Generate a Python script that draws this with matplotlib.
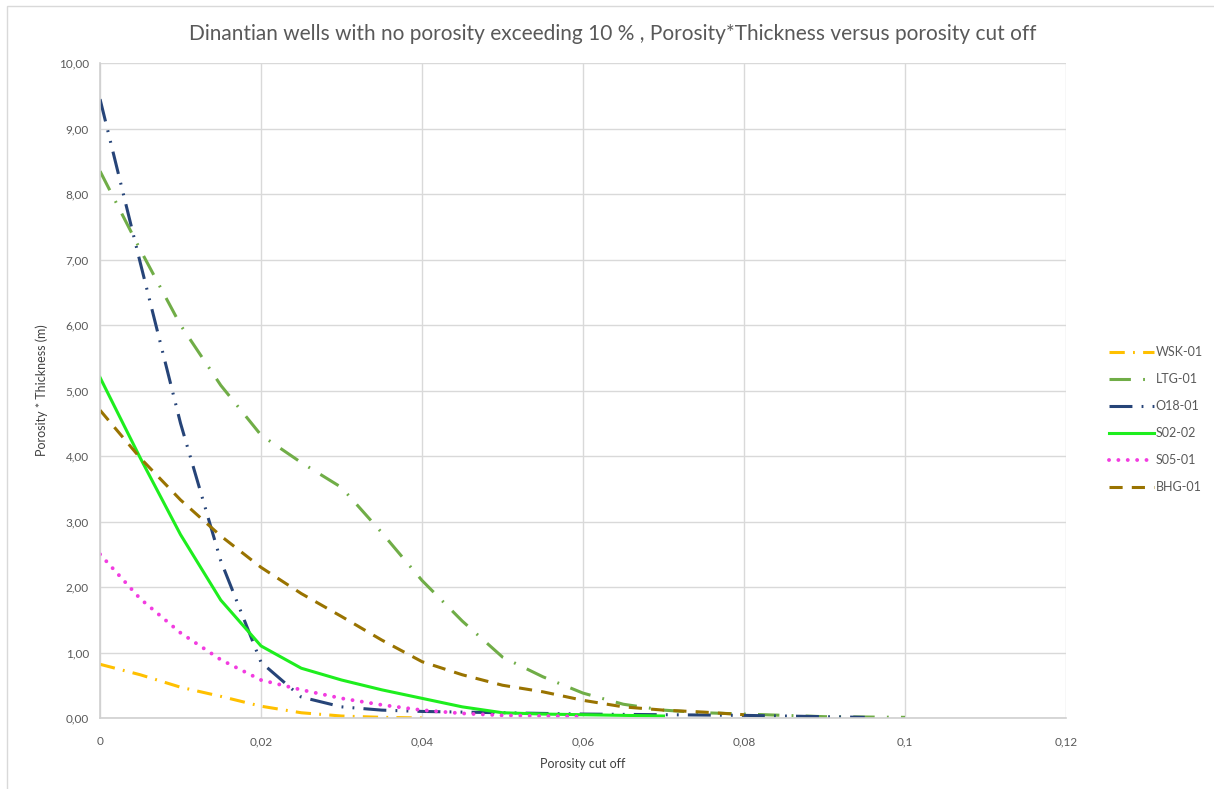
import numpy as np
import matplotlib
matplotlib.use("Agg")
import matplotlib.pyplot as plt
from matplotlib.patches import Rectangle

plt.rcParams['font.family'] = ['Lato', 'DejaVu Sans']

# porosity cut off values
cutoff = [0, 0.005, 0.01, 0.015, 0.02, 0.025, 0.03, 0.035, 0.04, 0.045, 0.05,
          0.055, 0.06, 0.065, 0.07, 0.075, 0.08, 0.085, 0.09, 0.095, 0.1]

wsk_01 = [0.82, 0.66, 0.47, 0.33, 0.18, 0.08, 0.03, 0.01, 0.0]
ltg_01 = [8.35, 7.15, 6.0, 5.08, 4.32, 3.9, 3.52, 2.83, 2.1, 1.48, 0.93,
          0.63, 0.38, 0.21, 0.12, 0.08, 0.06, 0.04, 0.02, 0.015, 0.01]
o18_01 = [9.45, 6.95, 4.5, 2.4, 0.85, 0.32, 0.17, 0.12, 0.1, 0.09, 0.08,
          0.07, 0.06, 0.055, 0.05, 0.045, 0.04, 0.03, 0.02, 0.01]
s02_02 = [5.2, 3.97, 2.8, 1.8, 1.1, 0.76, 0.58, 0.43, 0.3, 0.17, 0.08,
          0.06, 0.05, 0.04, 0.03]
s05_01 = [2.5, 1.82, 1.3, 0.89, 0.58, 0.43, 0.3, 0.2, 0.12, 0.07, 0.04,
          0.03, 0.02]
bhg_01 = [4.7, 3.97, 3.33, 2.78, 2.3, 1.9, 1.55, 1.19, 0.86, 0.66, 0.5,
          0.4, 0.27, 0.17, 0.12, 0.09, 0.05]

yticks = np.arange(0, 10.5, 1.0)
xticks = [0, 0.02, 0.04, 0.06, 0.08, 0.1, 0.12]
xticklabels = ['0', '0,02', '0,04', '0,06', '0,08', '0,1', '0,12']

fig = plt.figure(figsize=(12.14, 7.89), dpi=100)
ax = fig.add_axes([0.0824, 0.090, 0.7957, 0.830])

series = [
    ('WSK-01', wsk_01, '#FFC000', (0, (5, 2.7, 0.6, 2.7)), 'butt', 2.2),
    ('LTG-01', ltg_01, '#70AD47', (0, (7, 4, 0.6, 4)), 'butt', 2.2),
    ('O18-01', o18_01, '#264478', (0, (7.5, 3, 0.6, 3, 0.6, 3)), 'butt', 2.2),
    ('S02-02', s02_02, '#1EEE1E', '-', 'butt', 2.2),
    ('S05-01', s05_01, '#F23CE0', (0, (0.01, 2.4)), 'round', 2.8),
    ('BHG-01', bhg_01, '#997300', (0, (4.3, 3)), 'butt', 2.2),
]
for name, vals, color, ls, cap, lw in series:
    ax.plot(cutoff[:len(vals)], vals, color=color, lw=lw, linestyle=ls,
            dash_capstyle=cap, label=name)

ax.set_xlim(0, 0.12)
ax.set_ylim(0, 10)
ax.set_xticks(xticks)
ax.set_xticklabels(xticklabels)
ax.set_yticks(yticks)
ax.set_yticklabels([('%.2f' % v).replace('.', ',') for v in yticks])
ax.grid(True, color='#D9D9D9', lw=1)
ax.set_axisbelow(True)
for s in ['top', 'right']:
    ax.spines[s].set_visible(False)
for s in ['left', 'bottom']:
    ax.spines[s].set_color('#D0D0D0')
    ax.spines[s].set_linewidth(1.2)
ax.tick_params(length=0, labelsize=8.5, labelcolor='#595959')
ax.tick_params(axis='x', pad=13)
ax.tick_params(axis='y', pad=8)

ax.set_xlabel('Porosity cut off', fontsize=9, color='#404040', labelpad=8)
ax.set_ylabel('Porosity * Thickness (m)', fontsize=9, color='#404040', labelpad=8)
fig.suptitle('Dinantian wells with no porosity exceeding 10 % , Porosity*Thickness versus porosity cut off',
             x=0.505, y=0.97, fontsize=15, color='#595959')

leg = ax.legend(loc='center left', bbox_to_anchor=(0.908, 0.468), bbox_transform=fig.transFigure,
                frameon=False, fontsize=9, handlelength=3.6, handletextpad=0.15,
                labelspacing=1.2, borderpad=0)
for t in leg.get_texts():
    t.set_color('#595959')

fig.patches.append(Rectangle((0.006, -0.01), 1.1, 1.003, transform=fig.transFigure,
                             fill=False, edgecolor='#D9D9D9', lw=1))

fig.savefig('out.png', dpi=100)
